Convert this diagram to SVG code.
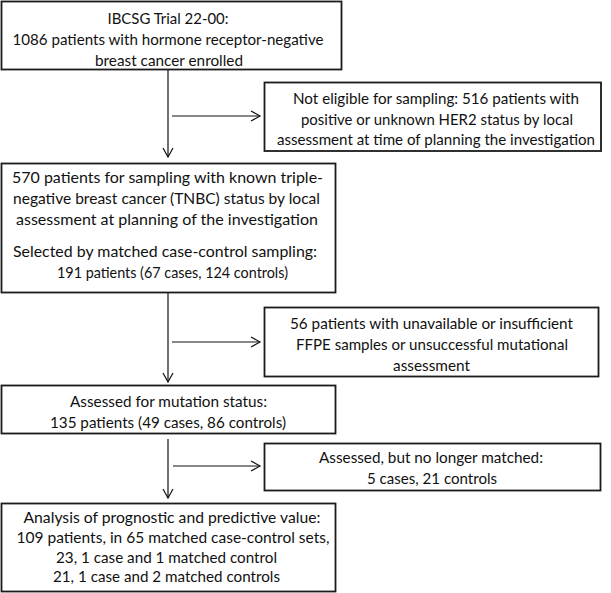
<svg xmlns="http://www.w3.org/2000/svg" width="611" height="593" viewBox="0 0 611 593">
<style>
.box{fill:#fff;stroke:#1a1a1a;stroke-width:1.8}
.t{font-family:Lato,"Open Sans","Liberation Sans",sans-serif;font-size:16px;fill:#111;text-anchor:middle}
.c{fill:none;stroke:#111;stroke-width:1.2}
</style>
<defs>
<marker id="ah" markerWidth="12" markerHeight="12" refX="10" refY="6" orient="auto" markerUnits="userSpaceOnUse">
<path d="M1,1 L10,6 L1,11" fill="none" stroke="#111" stroke-width="1.2"/>
</marker>
</defs>
<rect width="611" height="593" fill="#fff"/>
<g id="connectors">
<line class="c" x1="168" y1="70" x2="168" y2="157" marker-end="url(#ah)"/>
<line class="c" x1="172" y1="116" x2="260" y2="116" marker-end="url(#ah)"/>
<line class="c" x1="168" y1="293" x2="168" y2="382" marker-end="url(#ah)"/>
<line class="c" x1="172" y1="342" x2="260" y2="342" marker-end="url(#ah)"/>
<line class="c" x1="168" y1="439" x2="168" y2="498" marker-end="url(#ah)"/>
<line class="c" x1="173" y1="466" x2="260" y2="466" marker-end="url(#ah)"/>
</g>
<g id="n1">
<rect class="box" x="1.5" y="1.5" width="340" height="68"/>
<text class="t" x="168" y="24" textLength="121" lengthAdjust="spacingAndGlyphs">IBCSG Trial 22-00:</text>
<text class="t" x="168" y="45" textLength="311" lengthAdjust="spacingAndGlyphs">1086 patients with hormone receptor-negative</text>
<text class="t" x="169" y="66" textLength="148" lengthAdjust="spacingAndGlyphs">breast cancer enrolled</text>
</g>
<g id="n2">
<rect class="box" x="264.5" y="82.5" width="336.5" height="68.5"/>
<text class="t" x="436" y="103.5" textLength="286" lengthAdjust="spacingAndGlyphs">Not eligible for sampling: 516 patients with</text>
<text class="t" x="437" y="124.5" textLength="272" lengthAdjust="spacingAndGlyphs">positive or unknown HER2 status by local</text>
<text class="t" x="436" y="145" textLength="318" lengthAdjust="spacingAndGlyphs">assessment at time of planning the investigation</text>
</g>
<g id="n3">
<rect class="box" x="1.5" y="163.5" width="334" height="129"/>
<text class="t" x="167.5" y="183" textLength="311" lengthAdjust="spacingAndGlyphs">570 patients for sampling with known triple-</text>
<text class="t" x="166.5" y="204" textLength="307" lengthAdjust="spacingAndGlyphs">negative breast cancer (TNBC) status by local</text>
<text class="t" x="167" y="225" textLength="302" lengthAdjust="spacingAndGlyphs">assessment at planning of the investigation</text>
<text class="t" x="165" y="257" textLength="304" lengthAdjust="spacingAndGlyphs">Selected by matched case-control sampling:</text>
<text class="t" x="172.5" y="278" textLength="231" lengthAdjust="spacingAndGlyphs">191 patients (67 cases, 124 controls)</text>
</g>
<g id="n4">
<rect class="box" x="264.5" y="307.5" width="334" height="69"/>
<text class="t" x="431.5" y="329" textLength="283" lengthAdjust="spacingAndGlyphs">56 patients with unavailable or insufficient</text>
<text class="t" x="432" y="350" textLength="272" lengthAdjust="spacingAndGlyphs">FFPE samples or unsuccessful mutational</text>
<text class="t" x="431.5" y="371" textLength="77" lengthAdjust="spacingAndGlyphs">assessment</text>
</g>
<g id="n5">
<rect class="box" x="1.5" y="385.5" width="334" height="48"/>
<text class="t" x="168.5" y="407" textLength="197" lengthAdjust="spacingAndGlyphs">Assessed for mutation status:</text>
<text class="t" x="168" y="428" textLength="236" lengthAdjust="spacingAndGlyphs">135 patients (49 cases, 86 controls)</text>
</g>
<g id="n6">
<rect class="box" x="264.5" y="443.5" width="336" height="47"/>
<text class="t" x="431" y="463" textLength="224" lengthAdjust="spacingAndGlyphs">Assessed, but no longer matched:</text>
<text class="t" x="432" y="484" textLength="130" lengthAdjust="spacingAndGlyphs">5 cases, 21 controls</text>
</g>
<g id="n7">
<rect class="box" x="1.5" y="503.5" width="334" height="88"/>
<text class="t" x="172" y="523" textLength="297" lengthAdjust="spacingAndGlyphs">Analysis of prognostic and predictive value:</text>
<text class="t" x="173" y="543" textLength="313" lengthAdjust="spacingAndGlyphs">109 patients, in 65 matched case-control sets,</text>
<text class="t" x="166.5" y="563" textLength="221" lengthAdjust="spacingAndGlyphs">23, 1 case and 1 matched control</text>
<text class="t" x="166.5" y="582" textLength="227" lengthAdjust="spacingAndGlyphs">21, 1 case and 2 matched controls</text>
</g>
</svg>
